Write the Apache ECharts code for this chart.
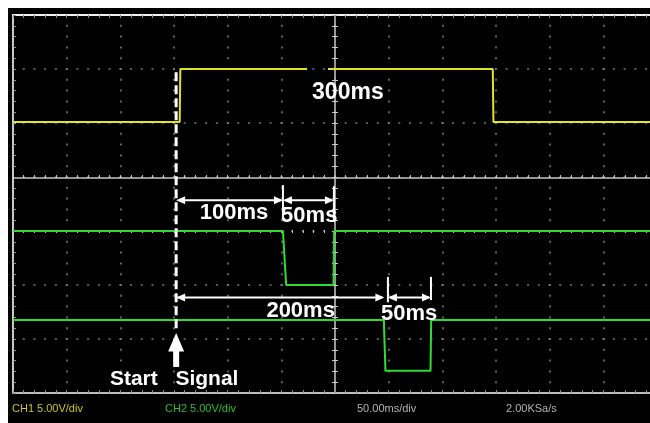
<!DOCTYPE html>
<html><head><meta charset="utf-8">
<script src="https://cdn.jsdelivr.net/npm/echarts/dist/echarts.min.js"></script>
<style>
html,body{margin:0;padding:0;background:#fff;width:650px;height:423px;overflow:hidden}
#c{position:absolute;left:8px;top:8px;width:642px;height:415px;background:#000}
</style>
</head><body><div id="c"></div>
<script>
// ---- data (time in ms, level in divisions from bottom of screen) ----
const ch1Time  = [0, 155.3, 155.9, 274.0, null, 293.5, 447.0, 447.6, 600];
const ch1Level = [5.02, 5.02, 6.0, 6.0, null, 6.0, 6.0, 5.02, 5.02];
const ch2Time  = [0, 251.5, 254.5, 298.6, 299.2, 600];
const ch2Level = [3.0, 3.0, 2.0, 2.0, 3.0, 3.0];
const ch3Time  = [0, 345.5, 347.0, 389.0, 389.6, 600];
const ch3Level = [1.35, 1.35, 0.41, 0.41, 1.35, 1.35];

// annotations
const triggerMs = 152;
const spanStart  = [152, 251.5, 152, 349.3];
const spanEnd    = [251.5, 299.0, 346.0, 389.4];
const spanLevel  = [3.57, 3.57, 1.77, 1.77];
const spanLabels = ['100ms', '50ms', '200ms', '50ms'];
const labelMs    = [206, 276, 268, 369];
const labelLevel = [3.34, 3.27, 1.52, 1.46];
const tickMs     = [251.5, 299.0, 349.3, 389.4];
const tickTop    = [3.85, 3.83, 2.15, 2.15];
const tickBottom = [3.24, 3.17, 1.68, 1.72];
const pulseLabel = '300ms', pulseLabelMs = 312, pulseLabelLevel = 5.56;
const startWords = ['Start', 'Signal'], startWordMs = [112.6, 180.7], startWordLevel = 0.25;
const statusTexts = ['CH1 5.00V/div', 'CH2 5.00V/div', '50.00ms/div', '2.00KSa/s'];

const toPairs = (t, v) => t.map((x, i) => x === null ? ['-', '-'] : [x, v[i]]);

const chart = echarts.init(document.getElementById('c'), null, {renderer: 'canvas'});

const baseX = {type: 'value', min: 0, max: 600, interval: 50, axisLabel: {show: false}, splitLine: {show: false}};
const baseY = {type: 'value', min: 0, max: 7, interval: 1, axisLabel: {show: false}, splitLine: {show: false}};
const tick = (inside, color) => ({show: true, inside: inside, length: 3, lineStyle: {color: color, width: 1}});
const minor = (color) => ({show: true, splitNumber: 5, length: 3, lineStyle: {color: color, width: 1}});

chart.setOption({
  backgroundColor: '#000',
  animation: false,
  grid: {left: 5, top: 7, width: 644, height: 378, containLabel: false, outerBoundsMode: 'none'},
  xAxis: [
    Object.assign({}, baseX, {position: 'bottom',
      axisLine: {show: true, onZero: false, lineStyle: {color: '#bdbdbd', width: 2}},
      axisTick: tick(true, '#888'), minorTick: minor('#888'),
      splitLine: {show: true, lineStyle: {color: '#7a7a7a', width: 1.6, type: [2, 8.8], dashOffset: 1}}}),
    Object.assign({}, baseX, {position: 'top',
      axisLine: {show: true, onZero: false, lineStyle: {color: '#f0f0f0', width: 2}},
      axisTick: tick(true, '#888'), minorTick: minor('#888')}),
    Object.assign({}, baseX, {position: 'bottom', offset: -215,
      axisLine: {show: true, onZero: false, lineStyle: {color: '#c8c8c8', width: 1.5}},
      axisTick: tick(true, '#c8c8c8'), minorTick: minor('#c8c8c8')}),
    Object.assign({}, baseX, {position: 'bottom', offset: -215,
      axisLine: {show: false},
      axisTick: tick(false, '#c8c8c8'), minorTick: minor('#c8c8c8')})
  ],
  yAxis: [
    Object.assign({}, baseY, {position: 'left',
      axisLine: {show: true, onZero: false, lineStyle: {color: '#c8c8c8', width: 2}},
      axisTick: tick(true, '#999'), minorTick: minor('#999'),
      splitLine: {show: true, lineStyle: {color: '#7a7a7a', width: 1.6, type: [2, 8.73], dashOffset: 1}}}),
    Object.assign({}, baseY, {position: 'left', offset: -322,
      axisLine: {show: true, onZero: false, lineStyle: {color: '#c8c8c8', width: 1.5}},
      axisTick: tick(true, '#c8c8c8'), minorTick: minor('#c8c8c8')}),
    Object.assign({}, baseY, {position: 'left', offset: -322,
      axisLine: {show: false},
      axisTick: tick(false, '#c8c8c8'), minorTick: minor('#c8c8c8')})
  ],
  series: [
    {type: 'line', data: toPairs(ch1Time, ch1Level), showSymbol: false, connectNulls: false,
     lineStyle: {color: '#e2e22c', width: 2}, z: 3, silent: true},
    {type: 'line', data: toPairs(ch2Time, ch2Level), showSymbol: false,
     lineStyle: {color: '#30dc30', width: 2}, z: 3, silent: true},
    {type: 'line', data: toPairs(ch3Time, ch3Level), showSymbol: false,
     lineStyle: {color: '#30dc30', width: 2}, z: 3, silent: true}
  ]
});

const P = (x, y) => chart.convertToPixel({gridIndex: 0}, [x, y]);
const W = '#ffffff';
const fontOf = (px) => 'bold ' + px + 'px "Liberation Sans", Arial, sans-serif';
const g = [];

// dashed trigger line
{
  const a = P(triggerMs, 5.94), b = P(triggerMs, 1.2);
  g.push({type: 'line', shape: {x1: a[0], y1: a[1], x2: b[0], y2: b[1]},
          style: {stroke: W, lineWidth: 3, lineDash: [9, 4]}, z: 10});
  const tip = P(triggerMs, 1.11), base = P(triggerMs, 0.77), bot = P(triggerMs, 0.48);
  const x = tip[0];
  g.push({type: 'polygon', shape: {points: [[x, tip[1]], [x - 8, base[1]], [x - 3, base[1]], [x - 3, bot[1]],
          [x + 3, bot[1]], [x + 3, base[1]], [x + 8, base[1]]]}, style: {fill: W}, z: 10});
}
// span arrows
spanStart.forEach((s, i) => {
  const a = P(s, spanLevel[i]), b = P(spanEnd[i], spanLevel[i]);
  const y = a[1], L = 9, H = 4;
  g.push({type: 'line', shape: {x1: a[0] + 2, y1: y, x2: b[0] - 2, y2: y}, style: {stroke: W, lineWidth: 2}, z: 10});
  g.push({type: 'polygon', shape: {points: [[a[0], y], [a[0] + L, y - H], [a[0] + L, y + H]]}, style: {fill: W}, z: 10});
  g.push({type: 'polygon', shape: {points: [[b[0], y], [b[0] - L, y - H], [b[0] - L, y + H]]}, style: {fill: W}, z: 10});
  const t = P(labelMs[i], labelLevel[i]);
  g.push({type: 'text', x: t[0], y: t[1], style: {text: spanLabels[i], fill: W, font: fontOf(22), align: 'center', verticalAlign: 'middle'}, z: 11});
});
// vertical ticks
tickMs.forEach((m, i) => {
  const a = P(m, tickTop[i]), b = P(m, tickBottom[i]);
  g.push({type: 'line', shape: {x1: a[0], y1: a[1], x2: b[0], y2: b[1]}, style: {stroke: W, lineWidth: 2}, z: 10});
});
// 300ms label
{
  const t = P(pulseLabelMs, pulseLabelLevel);
  g.push({type: 'text', x: t[0], y: t[1], style: {text: pulseLabel, fill: W, font: fontOf(23), align: 'center', verticalAlign: 'middle'}, z: 11});
}
// Start Signal
startWords.forEach((w, i) => {
  const t = P(startWordMs[i], startWordLevel);
  g.push({type: 'text', x: t[0], y: t[1], style: {text: w, fill: W, font: fontOf(21), align: 'center', verticalAlign: 'middle'}, z: 11});
});
// status bar
const statusX = [4, 157, 349, 498];
const statusColor = ['#c8c81e', '#2cc02c', '#b4b4b4', '#b4b4b4'];
statusTexts.forEach((s, i) => {
  g.push({type: 'text', x: statusX[i], y: 401, style: {text: s, fill: statusColor[i],
    font: '11px "Liberation Sans Narrow", "Liberation Sans", Arial, sans-serif', align: 'left', verticalAlign: 'middle'}, z: 11});
});

chart.setOption({graphic: g});
</script>
</body></html>
